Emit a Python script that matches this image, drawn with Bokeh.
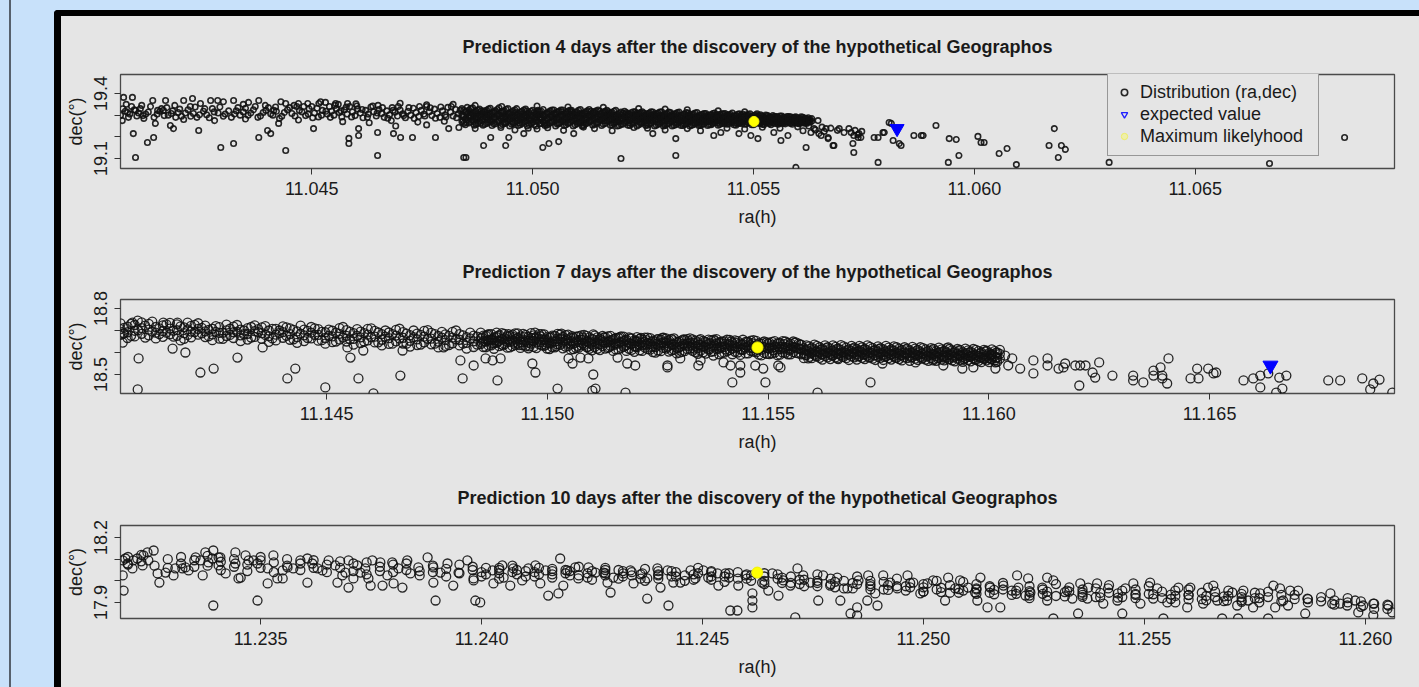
import numpy as np
from bokeh.plotting import figure
from bokeh.layouts import column
from bokeh.models import FixedTicker, PrintfTickFormatter, Legend, LegendItem
from bokeh.embed import file_html
from bokeh.resources import INLINE

# ---------------------------------------------------------------------------
# DATA.  Tokens are "k:m[,m,...]" :
#   ra  = RA0  + k * 1e-5   (hours)
#   dec = DEC0 + m * 1e-3   (degrees)
# ---------------------------------------------------------------------------
TITLES = ["Prediction 4 days after the discovery of the hypothetical Geographos",
          "Prediction 7 days after the discovery of the hypothetical Geographos",
          "Prediction 10 days after the discovery of the hypothetical Geographos"]
LEGEND_LABELS = ["Distribution (ra,dec)", "expected value", "Maximum likelyhood"]

# ----- 4 days (RA0 = 11.04, DEC0 = 19) -----
P4_RA0, P4_DEC0 = 11.04, 19.0
P4_POINTS = """
71:275 74:382 94:382 83:312 101:322 96:215 101:105 128:174 140:368 142:197 146:262 151:322 169:368 164:322
187:238 180:252 210:368 230:377 248:354 244:229 271:368 287:368 294:151 323:169 323:368 357:359 380:368
380:197 400:229 407:215 414:322 425:262 441:354 441:137 470:354 491:354 516:354 504:238 531:359 554:354
581:354 584:193 584:169 606:238 606:206 649:220 649:114 685:215 701:197 728:197 780:197 810:238 844:105 833:243
67:300 78:318 88:305 98:325 108:310 118:298 130:315 150:305 160:330 175:300 185:320 198:312 205:295 220:325
232:308 240:290 255:318 262:302 275:330 288:310 300:295 312:320 325:305 333:335 345:315 356:300 368:325
378:290 390:312 402:335 412:300 420:318 432:295 445:325 455:308 466:340 478:315 486:298 494:330 506:310
515:292 524:322 535:305 540:340 80:350 115:345 190:345 225:340 300:362 345:350 395:345 430:362 460:345
500:340 520:362 120:285 210:280 280:275 350:282 470:278
545:318 550:300 556:330 562:312 568:292 574:325 580:305 586:340 592:315 598:298 604:328 610:310 616:288
622:322 628:305 634:338 640:316 646:296 652:326 658:308 664:290 670:320 676:302 682:335 688:314 694:296
700:324 706:306 712:288 718:318 724:300 730:332 736:312 742:294 748:322 754:305 760:340 766:316 772:298
778:328 784:308 790:290 796:320 802:302 808:336 814:314 820:296 826:326 832:306
560:350 600:352 650:345 700:355 760:348 820:350 570:270 630:265 680:275 740:268 800:272 690:250 760:255
840:330,300,270 848:315,285,256 856:324,294,264 864:308,278,334 872:318,288,258 880:328,300,272
888:312,284,254 896:322,292,262 904:306,276,332 912:316,288,260 920:326,298,268 928:310,282,252
936:320,292,264 944:304,274,330 952:314,286,258 960:324,296,266 968:308,280,252 976:318,290,262
984:302,272,328 992:312,284,256 1000:322,294,266
1008:306,278,250 1016:316,288,260 1024:326,298,270 1032:310,282,254 1040:320,292,264 1048:304,276,324
1056:314,286,258 1064:324,296,268 1072:308,280,252 1080:318,290,262 1088:302,274,322 1096:312,284,256
1104:322,294,266 1112:306,278,250 1120:316,288,260 1128:326,298,270 1136:310,282,254 1144:320,292,264
1152:304,276,318 1160:314,286,258 1168:300,272,322 1176:310,282,254 1184:318,290,262 1192:304,276,250
1200:314,286,258
1208:318,292,266 1216:306,280,254 1224:312,286,260 1232:300,274,316 1240:308,282,256 1248:316,290,264
1256:302,276,252 1264:310,284,258 1272:298,272,314 1280:306,280,254 1288:314,288,262 1296:300,274,250
1304:308,282,258 1312:296,270,312 1320:304,278,254 1328:312,286,262 1336:298,272,252 1344:306,280,258
1352:294,268,310 1360:302,276,254 1368:310,284,262 1376:296,270,252 1384:304,278,258 1392:292,268,308
1400:300,276,256
1408:308,284,262 1416:296,274,302 1424:304,280,258 1432:292,270,306 1440:300,278,258 1448:288,268,304
1456:296,274,256 1464:304,282,262 1472:290,270,300 1480:298,276,258 1488:286,266,302 1496:294,274,256
1504:300,280,262 1512:288,268,298 1520:296,276,258 1528:284,266,300
1536:292,274,260 1544:298,282,266 1552:288,270,294 1560:280,264,296 1568:290,274,262 1576:284,268,294
1584:292,276,262 1592:282,266,290 1600:288,274,262 1608:280,268,292 1616:286,272,264 1624:278,268,288
1632:284,272
849:105 889:160 905:197 939:160 946:197 980:215 1023:151 1037:169 1059:178 928:243 990:240 1034:242
1093:215 1115:245 1229:243 1200:100 1272:215 1324:114 1324:192 1410:206 1426:220 1467:215 1494:206
1510:192 1546:220 1562:183 1578:206 1596:59 870:238 960:232 1010:236 1070:230 1140:238 1180:228 1260:240
1300:232 1350:238 1380:228 1440:240 1480:236 1520:244 1560:240 1600:246 870:345 930:340 1010:342 1080:338
1160:336 1240:330 1300:328 1350:325 1420:320 1480:315
1630:220 1646:275 1637:238 1653:206 1664:238 1669:197 1680:160 1694:238 1705:220 1721:220 1727:206
1725:169 1727:128 1739:215 1743:197 1782:197 1793:220 1807:266 1816:183 1830:169 1834:160 1863:206
1884:206 1913:252 1782:82 1619:151 1648:215 1669:192 1682:160 1737:197 1773:197 1796:220 1880:206
1812:262 1625:250 1640:232 1655:245 1612:228 1660:225 1675:240 1690:230 1716:238 1730:230 1736:210
1745:225 1941:82 1965:114 1943:192 1959:188 2008:202 2015:174 2022:174 2056:123 2074:146 2095:72
2181:238 2169:160 2197:160 2206:142 2190:105 2305:82 2668:77 2838:197
"""
# further passes through the dense 4-day band
P4_BAND_FILL = """
844:322,292,262 852:308,278,336 860:330,300,270 868:314,284,254 876:324,294,264 884:306,276,320
892:316,290,258 900:328,298,268 908:312,282,252 916:320,290,260 924:304,274,334 932:316,286,258
940:326,296,266 948:310,280,250 956:320,292,262 964:302,272,330 972:314,284,256 980:324,296,268
988:308,278,250 996:318,288,260
1004:312,284,256 1012:300,272,322 1020:318,290,262 1028:304,276,252 1036:314,286,258 1044:324,296,268
1052:308,280,250 1060:318,290,262 1068:302,274,324 1076:312,284,256 1084:322,294,266 1092:306,278,250
1100:316,288,260 1108:326,298,270 1116:310,282,254 1124:320,292,264 1132:304,276,318 1140:314,286,258
1148:324,296,268 1156:308,280,252 1164:318,290,262 1172:302,274,316 1180:312,284,256 1188:296,268,322
1196:308,280,252
1204:310,284,258 1212:298,272,312 1220:304,278,252 1228:316,290,264 1236:302,276,250 1244:312,286,260
1252:296,270,310 1260:306,280,254 1268:316,290,264 1276:302,276,250 1284:310,284,258 1292:296,270,316
1300:304,278,252 1308:314,288,262 1316:300,274,250 1324:308,282,256 1332:294,268,314 1340:302,276,252
1348:312,286,260 1356:298,272,250 1364:306,280,256 1372:290,266,312 1380:300,274,252 1388:308,282,260
1396:294,270,252
1404:302,278,256 1412:310,288,266 1420:298,276,254 1428:306,284,262 1436:294,272,308 1444:302,280,260
1452:310,288,266 1460:298,276,254 1468:306,284,262 1476:294,272,304 1484:302,280,260 1492:290,268,306
1500:298,276,256 1508:292,272,306 1516:302,282,262 1524:292,272,256
1532:298,282,266 1540:288,270,256 1548:294,278,262 1556:290,272,258 1564:296,282,268 1572:288,270,260
1580:294,280,266 1588:286,272,258 1596:292,278,266 1604:284,272,260 1612:290,276,264 1620:284,270,262
1628:280,268
842:300,276 850:318,266 858:290,310 866:270,298 874:306,282 882:292,262 890:320,300 898:280,306
906:296,268 914:310,286 922:274,302 930:296,318 938:284,262 946:306,292 954:270,300 962:312,288
970:296,264 978:306,280 986:290,318 994:276,300
1002:298,270 1010:314,290 1018:280,302 1026:296,262 1034:306,284 1042:272,298 1050:310,290 1058:280,262
1066:300,316 1074:290,268 1082:306,280 1090:294,314 1098:272,300 1106:288,308 1114:298,264 1122:280,306
1130:292,270 1138:302,316 1146:282,262 1154:294,306 1162:274,298 1170:290,308 1178:300,266 1186:280,296
1194:292,270
1202:300,276 1210:286,306 1218:294,264 1226:278,300 1234:290,308 1242:270,296 1250:284,302 1258:292,264
1266:278,298 1274:288,304 1282:268,294 1290:282,300 1298:290,262 1306:276,296 1314:286,302 1322:266,292
1330:280,300 1338:288,262 1346:274,294 1354:284,300 1362:266,290 1370:278,296 1378:286,262 1386:272,292
1394:282,298
1402:290,270 1410:278,298 1418:286,264 1426:272,292 1434:282,262 1442:290,270 1450:276,296 1458:284,264
1466:270,292 1474:280,262 1482:288,270 1490:276,294 1498:284,266 1506:272,290 1514:280,262 1522:288,270
1530:276,288 1538:266,282 1546:274,290 1554:280,264 1562:270,286 1570:278,266 1578:272,288 1586:280,266
1594:270,284 1602:276,266 1610:272,282 1618:278,266 1626:274
72:330 85:290 92:340 104:296 112:330 124:305 135:340 143:290 156:318 166:298 172:335 182:308 192:290
201:328 214:310 226:295 236:338 246:302 258:330 268:288 279:315 292:338 304:305 318:290 329:320 338:300
350:332 362:310 372:340 384:296 396:322 407:306 418:338 427:285 438:312 450:335 462:296 472:322 482:340
492:305 502:288 512:332 522:300 532:318 542:290 552:345 566:320 578:338 590:292 602:342 614:326 626:290
638:342 648:310 660:335 672:286 684:322 696:340 708:298 720:335 732:285 744:340 756:296 768:334 780:286
792:338 804:292 816:340 828:288 836:322
"""
P4_ML = (11.05501, 19.271)      # maximum likelihood (ra, dec)
P4_EV = (11.05825, 19.238)      # expected value (ra, dec)
P4_XTICKS = [11.045, 11.050, 11.055, 11.060, 11.065]
P4_YTICKS, P4_YMINOR = [19.1, 19.4], [19.2, 19.3]

# ----- 7 days (RA0 = 11.14, DEC0 = 18) -----
P7_RA0, P7_DEC0 = 11.14, 18.0
P7_POINTS = """
33:732,706,680 49:718,692,666 65:725,699,673 81:711,685,737 97:730,704,678 113:716,690,664 129:723,697,671
145:709,683,735 161:728,702,676 177:714,688,662 193:721,695,669 209:707,681,733 225:722,696,670
241:708,682,656 257:715,689,663 273:701,675,727 289:718,692,666 305:704,678,652 321:711,685,659
337:697,671,723 353:714,688,662 369:700,674,648 385:707,681,655 401:693,667,719 417:710,684,658
433:696,670,644 449:704,678,652 465:690,664,716 481:706,680,654 497:692,666,640 513:699,673,647
529:685,659,711 545:702,676,650 561:688,662,636 577:695,669,643 593:681,655,707 609:698,672,646
625:684,658,632 641:691,665,639 657:677,651,703 673:693,667,641 689:679,653,627 705:686,660,634
721:672,646,698 737:689,663,637 753:675,649,623 769:682,656,630 785:668,642,694 801:684,658,632
817:670,644,618 833:677,651,625
849:690,664,638 861:676,650,624 873:684,658,632 885:670,644,690 897:688,662,636 909:674,648,622
921:681,655,629 933:667,641,687 945:685,659,633 957:671,645,619 969:678,652,626 981:664,638,684
993:682,656,630 1005:668,642,616 1017:675,649,623 1029:661,635,681 1041:679,653,627 1053:665,639,613
1065:672,646,620 1077:658,632,678 1089:676,650,624 1101:662,636,610 1113:669,643,617 1125:655,629,675
1137:673,647,621 1149:659,633,607 1161:666,640,614 1173:652,626,672 1185:669,643,617 1197:655,629,603
1209:662,636,610 1221:648,622,668 1233:665,639,613 1245:651,625,599 1257:658,632,606 1269:644,618,664
1281:662,636,610 1293:648,622,596 1305:655,629,603 1317:641,615,661 1329:660,634,608 1341:646,620,594
1353:653,627,601 1365:639,613,659 1377:658,632,606 1389:644,618,592 1401:651,625,599 1413:637,611,657
1425:655,629,603 1437:641,615,589 1449:648,622,596 1461:634,608,654 1473:653,627,601 1485:639,613,587
1497:646,620,594 1509:648,622,596 1521:640,614,588 1533:652,626,600 1545:644,618,592 1557:650,626,602
1569:640,618,596
1581:620,596,574 1593:628,604,580 1605:614,590,636 1617:624,600,576 1629:632,608,584 1641:618,594,570
1653:626,602,578 1665:612,588,634 1677:622,598,574 1689:630,606,582 1701:616,592,568 1713:624,600,576
1725:610,586,632 1737:620,596,572 1749:628,604,580 1761:614,590,566 1773:622,598,574 1785:608,584,628
1797:618,594,570 1809:624,600,578 1821:610,586,562 1833:618,594,572 1845:604,580,624 1857:614,590,568
1869:620,596,574 1881:606,584,562 1893:614,590,568 1905:600,578,620 1917:610,586,564 1929:616,594,572
1941:602,580,558 1953:610,588,566 1965:596,574,616 1977:606,584,562 1989:612,590,570 2001:598,576,556
2013:606,584,564 2025:594,572,612
72:432 74:573 151:618 180:600 214:509 244:527 298:577 355:623 411:482 429:527 497:441 547:623 554:577
572:482 583:609 606:414 667:495 672:609 765:623 803:564 808:482 833:541 60:736 72:745 130:736 162:736
185:736 38:645 40:686 860:573 876:564 887:473 894:573 966:550 973:509 1023:436 1048:573 1057:550
1075:577 1093:573 1102:427 1109:436 1104:500 1177:418 1181:550 1199:541 1159:577 1272:541 1272:532
1301:573 1342:541 1347:564 1376:586 1399:555 1415:541 1419:464 1437:541 1437:509 1471:541 1494:464
1489:527 1523:541 1528:532 1591:573 1612:418 1657:573 1732:464 1759:550 1834:555 1874:564 1897:577
1908:623 1897:541 1936:586 1940:527 1963:586 1965:532 1992:573 2004:586 2015:527 2015:555 2037:586
2044:541 2053:573 2071:527 2101:564 2101:505 2133:573 2133:541 2158:527 2169:532 2173:550 2196:541
2207:541 2219:541 2205:450 2235:509 2241:486 2250:555 2280:495 2327:495 2327:473 2350:464 2373:518
2373:495 2389:532 2393:495 2407:573 2404:459 2393:482 2457:482 2472:527 2475:482 2497:527 2509:505
2515:509 2577:473 2599:482 2615:495 2633:505 2658:486 2674:495 2615:441 2665:436 2651:418 2769:473
2796:473 2846:482 2871:459 2885:477 2864:432 2914:418
"""
# further passes through the 7-day band
P7_BAND_FILL = """
41:712,688 57:730,676 73:702 89:722,668 105:695,740 121:710,684 137:728,690 153:699,672 169:719,655
185:705,680 201:726,693 217:687,712 233:703,674 249:720,694 265:690,662 281:708,680 297:695,725
313:683,700 329:716,668 345:692,706 361:680,720 377:707,664 393:688,700 409:676,714 425:703,660
441:686,722 457:698,666 473:680,710 489:694,656 505:676,704 521:690,650 537:668,716 553:694,660
569:676,706 585:688,650 601:670,710 617:691,646 633:672,700 649:684,640 665:664,708 681:686,640
697:670,700 713:680,636 729:662,702 745:684,640 761:668,694 777:676,634 793:660,700 809:678,640
825:664,690 841:672,636
855:677,651,625 867:683,657,631 879:669,643,617 891:679,653,629 903:665,639,685 915:675,649,623
927:687,661,635 939:673,647,621 951:680,654,628 963:666,640,688 975:672,646,620 987:684,658,632
999:670,644,618 1011:677,651,625 1023:663,637,685 1035:671,645,619 1047:681,655,629 1059:667,641,615
1071:674,648,622 1083:660,634,680 1095:669,643,617 1107:677,651,625 1119:663,637,611 1131:670,644,618
1143:656,630,676 1155:666,640,614 1167:673,647,621 1179:659,633,607 1191:664,638,612 1203:650,624,670
1215:659,633,607 1227:668,642,616 1239:654,628,602 1251:661,635,609 1263:647,621,667 1275:656,630,604
1287:664,638,612 1299:651,625,599 1311:658,632,606 1323:644,618,664 1335:654,628,602 1347:661,635,609
1359:647,621,595 1371:655,629,603 1383:641,615,661 1395:650,624,598 1407:658,632,606 1419:644,618,592
1431:652,626,600 1443:638,612,658 1455:648,622,596 1467:656,630,604 1479:642,616,590 1491:650,624,598
1503:645,619,593 1515:652,626,600 1527:642,616,590 1539:650,624,598 1551:640,616,592 1563:646,622,598
1575:636,614,592
1587:612,588,632 1599:622,598,574 1611:630,606,582 1623:616,592,568 1635:624,600,578 1647:632,610,586
1659:618,594,570 1671:628,604,580 1683:614,590,566 1695:622,600,578 1707:630,608,584 1719:616,592,570
1731:626,602,578 1743:612,588,566 1755:620,598,576 1767:630,606,582 1779:614,592,568 1791:624,600,576
1803:612,588,564 1815:618,596,574 1827:626,602,580 1839:612,588,566 1851:620,598,576 1863:608,586,562
1875:616,592,570 1887:622,600,578 1899:608,586,564 1911:616,592,570 1923:604,582,560 1935:612,590,568
1947:618,596,574 1959:604,582,560 1971:612,588,566 1983:600,578,556 1995:608,586,564 2007:614,592,570
2019:600,578,558
852:668,645 864:655,680 876:640,662 888:676,650 900:660,632 912:684,656 924:645,670 936:660,634
948:672,648 960:654,628 972:666,690 984:648,674 996:660,636
1008:670,644 1020:652,628 1032:664,686 1044:640,660 1056:674,650 1068:656,630 1080:668,642 1092:650,626
1104:660,682 1116:638,656 1128:668,648 1140:650,624 1152:662,640
1164:646,670 1176:656,630 1188:640,664 1200:652,626 1212:666,644 1224:636,656 1236:648,624 1248:660,640
1260:642,666 1272:652,624 1284:636,656 1296:646,620
1308:660,638 1320:630,652 1332:644,618 1344:656,636 1356:628,648 1368:642,616 1380:652,632 1392:626,646
1404:640,614 1416:650,630 1428:622,644 1440:636,612 1452:648,628 1464:620,642 1476:636,612 1488:646,626
1500:620,640 1512:634,610 1524:644,626 1536:618,638 1548:632,610 1560:644,624 1572:618,636
1584:610,590 1596:618,596 1608:604,584 1620:612,592 1632:620,598 1644:606,586 1656:616,594 1668:600,580
1680:610,590 1692:618,596 1704:604,582 1716:612,590 1728:598,578 1740:608,588 1752:616,594 1764:602,580
1776:610,588 1788:596,576 1800:606,586 1812:614,592 1824:598,578 1836:606,586 1848:594,572 1860:602,582
1872:610,590 1884:596,574 1896:604,582 1908:590,570 1920:598,578 1932:606,586 1944:592,570 1956:600,580
1968:588,568 1980:596,576 1992:604,582 2004:590,570 2016:598,576
"""
P7_ML = (11.15476, 18.623)
P7_EV = (11.16638, 18.541)
P7_XTICKS = [11.145, 11.150, 11.155, 11.160, 11.165]
P7_YTICKS, P7_YMINOR = [18.5, 18.8], [18.6, 18.7]

# ----- 10 days (RA0 = 11.23, DEC0 = 17) -----
P10_RA0, P10_DEC0 = 11.23, 17.0
P10_POINTS = """
188:1094 188:1025 190:955 194:1103 199:1080 210:1057 212:1094 221:1103 233:1071 235:1117 244:1131 258:1140
246:1094 267:1034 271:992 285:1038 303:1025 307:1057 323:1057 330:1062 337:1048 353:1108 364:1094
369:1025 375:1131 382:1085 391:1103 393:1140 405:1108 405:1071 409:1108 421:1034 393:886 443:1131
443:1080 450:1011 455:1015 466:1117 473:1094 484:1094 493:1080 493:909 500:1094 516:1057 516:988
529:1117 538:1011 550:1011 550:1048 561:1062 574:1057 590:1094 606:1103 606:992 617:1080 629:1057
640:1048 654:1094 669:1071 674:992 685:1025 692:1038 699:1094 699:969 710:1011 719:1071 726:1038
737:1057 744:1011 749:978 753:1094 771:1085 776:978 787:1025 798:1085 801:988 812:1057 821:969
832:1094 839:1034 857:1062 878:1108 891:1062 891:992 896:909 907:1038 923:1080 936:978 948:1038
968:1094 982:1011 986:909
982:1002 997:900 1025:1048 1027:988 1047:1071 1050:1015 1065:978 1072:1057 1092:1002 1106:1057
1122:1071 1133:988 1145:1048 1151:932 1178:1103 1174:942 1185:978 1194:1048 1212:1062 1219:1011
1242:1062 1258:1038 1276:1038 1285:992 1292:946 1298:1015 1321:1034 1337:1048 1344:988 1364:1034
1375:918 1375:1011 1398:1057 1405:969 1423:886 1421:1048 1434:992 1450:992 1473:1048 1484:1011
1502:1048 1513:1015 1534:1034 1536:978 1552:1034 1563:863 1579:863 1581:978 1597:1025 1613:942
1613:909 1613:877 1635:992 1649:955 1658:1034 1672:932 1683:1002 1699:978 1715:1057 1710:831
1728:1025 1744:992 1762:909 1773:1025 1789:978 1805:1015 1812:909 1828:965 1835:849 1850:877
1850:840 1853:1002 1875:1025 1873:909 1891:942 1896:886 1909:1025 1925:992 1941:965 1964:1025
1977:992 1993:942 2009:988 2022:1002
2056:1015 2049:909 2072:965 2083:1002 2101:969 2117:946 2122:909 2129:1015 2145:877 2151:969
2174:877 2181:978 2212:1025 2215:969 2231:932 2237:1011 2242:946 2269:969 2280:1015 2280:909
2294:1002 2294:826 2325:955 2337:918 2350:849 2355:988 2371:918 2373:969 2393:988 2407:895 2418:965
2439:909 2450:849 2457:965 2475:988 2491:895 2513:992 2529:965 2543:826 2552:900 2570:900 2577:969
2597:877 2604:969 2633:895 2644:969 2656:978 2665:909 2676:826 2687:909 2699:946 2710:886 2712:826
2724:955 2735:909 2746:877 2762:942 2780:826 2792:978 2796:877 2807:965 2814:909 2825:886 2830:955
2848:955 2864:849 2869:918 2921:942 2925:895 2943:895 2959:886 2977:909 2984:854 2995:886 3018:895
3018:840 3052:886 3061:854
1000:1040,1020 1040:1035,1060 1080:1030,1050 1120:1040,1020 1160:1030,1055 1200:1025,1045
1240:1035,1015 1280:1025,1050 1320:1020,1045 1360:1030,1010 1400:1025,1045 1440:1020,1040
1480:1030,1005 1520:1020,1040 1560:1015,1035 1600:1010,1030 1640:1020,1000 1680:1015,990
1720:1005,985 1760:1000,975 1800:995,970 1840:990,965 1880:985,960 1920:980,958 1960:975,955
2000:970,950 2040:968,948 2080:962,945 2120:960,940 2160:958,938 2200:955,935 2240:952,932
2280:950,930 2320:948,928 2360:946,926 2400:944,924 2440:942,922 2480:940,920 2520:938,918
2560:936,916 2600:934,914 2640:930,910 2680:928,906 2720:925,903 2760:920,900
"""
# second pass through the 10-day band
P10_BAND_FILL = """
200:1110,1075 230:1090,1120 260:1070 290:1100,1060 320:1080,1110 350:1065,1095 380:1115,1070
410:1088,1050 440:1100,1065 470:1075,1045 500:1110,1060 530:1085,1040 560:1070,1100 590:1050,1080
620:1095,1060 650:1075,1040 680:1060,1090 710:1045,1080 740:1085,1030 770:1065,1045 800:1040,1075
830:1080,1050 860:1045,1025 890:1070,1040 920:1055,1020 950:1075,1035 980:1050,1065 1010:1030,1060
1040:1050,1010 1070:1040,1070 1100:1020,1045 1130:1060,1030 1160:1015,1045 1190:1050,1035
1220:1025,1065 1250:1045,1005 1280:1035,1060 1310:1010,1050 1340:1040,1025 1370:1055,1000
1400:1030,1010 1430:1045,1020 1460:1025,1000 1490:1035,1060 1520:1005,1045 1550:1020,995
1580:1040,1010 1610:1000,1025 1640:1035,985 1670:1010,1030 1700:990,1020 1730:1005,975 1760:1030,990
1790:985,1010 1820:1000,965 1850:1020,985 1880:975,1000 1910:995,960 1940:1010,975 1970:970,990
2000:985,950 2030:960,1000 2060:980,945 2090:995,955 2120:965,985 2150:945,975 2180:990,960
2210:955,940 2240:975,920 2270:940,960 2300:985,930 2330:950,970 2360:935,960 2390:965,925
2420:945,980 2450:925,955 2480:960,935 2510:940,975 2540:920,950 2570:955,930 2600:935,960
2630:915,945 2660:950,925 2690:930,955 2720:910,940 2750:945,920 2780:925,950 2810:905,935
2840:935,915 2870:915,900 2900:925,905 2930:910,890 2960:900,920 2990:880,905 3020:895,870 3050:870,890
"""
P10_ML = (11.24624, 18.038)
P10_XTICKS = [11.235, 11.240, 11.245, 11.250, 11.255, 11.260]
P10_YTICKS, P10_YMINOR = [17.9, 18.2], [18.0, 18.1]


def parse(txt, ra0, dec0):
    ra, dec = [], []
    for tok in txt.split():
        k, ms = tok.split(":")
        for m in ms.split(","):
            ra.append(ra0 + int(k) * 1e-5)
            dec.append(dec0 + int(m) * 1e-3)
    return ra, dec


ra4, dec4 = parse(P4_POINTS + P4_BAND_FILL, P4_RA0, P4_DEC0)
ra7, dec7 = parse(P7_POINTS + P7_BAND_FILL, P7_RA0, P7_DEC0)
ra10, dec10 = parse(P10_POINTS + P10_BAND_FILL, P10_RA0, P10_DEC0)

# ---------------------------------------------------------------------------
FONT = "Liberation Sans"
BG = "#e5e5e5"
INK = "#1a1a1a"
W = 1358


def panel(title, ra, dec, ml, ev, xr, yr, xticks, ymaj, ymin, pt_size, pt_lw, height, frame_h,
          ml_size, ev_size, legend=False):
    p = figure(width=W, height=height, x_range=xr, y_range=yr,
               output_backend="svg", toolbar_location=None,
               min_border_left=59, min_border_right=25, min_border_top=58,
               min_border_bottom=height - 58 - frame_h,
               background_fill_color=BG, border_fill_color=BG,
               outline_line_color="#4a4a4a", outline_line_width=1.3)
    p.grid.visible = False
    p.title.text = title
    p.title.align = "center"
    p.title.text_font = FONT
    p.title.text_font_size = "18px"
    p.title.text_font_style = "bold"
    p.title.text_color = INK
    p.title.standoff = 36

    xa = p.xaxis[0]
    xa.ticker = FixedTicker(ticks=xticks)
    xa.formatter = PrintfTickFormatter(format="%.3f")
    xa.axis_label = "ra(h)"
    ya = p.yaxis[0]
    ya.ticker = FixedTicker(ticks=ymaj, minor_ticks=ymin)
    ya.formatter = PrintfTickFormatter(format="%.1f")
    ya.axis_label = "dec(°)"
    ya.major_label_orientation = "vertical"
    for ax in (xa, ya):
        ax.axis_line_color = None
        ax.major_tick_line_color = "#333333"
        ax.major_tick_out = 6
        ax.major_tick_in = 0
        ax.minor_tick_out = 6
        ax.minor_tick_in = 0
        ax.major_label_text_font = FONT
        ax.major_label_text_font_size = "18px"
        ax.major_label_text_color = INK
        ax.axis_label_text_font = FONT
        ax.axis_label_text_font_size = "18px"
        ax.axis_label_text_font_style = "normal"
        ax.axis_label_text_color = INK
    xa.major_label_standoff = 7
    xa.axis_label_standoff = 9
    ya.major_label_standoff = 7
    ya.axis_label_standoff = 6
    xa.minor_tick_line_color = None
    ya.minor_tick_line_color = "#333333"

    r_dist = p.scatter(ra, dec, marker="circle", size=pt_size, fill_color=None,
                       line_color="#111111", line_width=pt_lw, line_alpha=0.9)
    items = [LegendItem(label=LEGEND_LABELS[0], renderers=[r_dist])]
    if ev is not None:
        r_ev_leg = p.scatter([ev[0]], [ev[1]], marker="inverted_triangle", size=8,
                             fill_color=None, line_color="#2020ff", line_width=1.3)
        items.append(LegendItem(label=LEGEND_LABELS[1], renderers=[r_ev_leg]))
    r_ml_leg = p.scatter([ml[0]], [ml[1]], marker="circle", size=7, fill_color="#ffff40",
                         fill_alpha=0.35, line_color="#eeee30", line_alpha=0.6)
    items.append(LegendItem(label=LEGEND_LABELS[2], renderers=[r_ml_leg]))
    if ev is not None:
        p.scatter([ev[0]], [ev[1]], marker="inverted_triangle", size=ev_size,
                  fill_color="#0000ff", line_color="#0000ff")
    p.scatter([ml[0]], [ml[1]], marker="circle", size=ml_size,
              fill_color="#ffff00", line_color="#f2f200")

    if legend:
        leg = Legend(items=items, location=(987, 12),
                     label_text_font=FONT, label_text_font_size="18px", label_text_color=INK,
                     glyph_width=16, glyph_height=22, label_height=22, label_width=170,
                     padding=8, spacing=0, label_standoff=8, margin=0,
                     border_line_color="#4a4a4a", border_line_width=1.3,
                     background_fill_color=BG, background_fill_alpha=1.0)
        p.add_layout(leg)
    return p


p1 = panel(TITLES[0], ra4, dec4, P4_ML, P4_EV, (11.04067, 11.06951), (19.0539, 19.4877),
           P4_XTICKS, P4_YTICKS, P4_YMINOR, 5.5, 1.6, 225, 94, 10, 14, legend=True)
p2 = panel(TITLES[1], ra7, dec7, P7_ML, P7_EV, (11.14033, 11.16919), (18.4136, 18.841),
           P7_XTICKS, P7_YTICKS, P7_YMINOR, 9, 1.3, 226, 94, 11, 15)
p3 = panel(TITLES[2], ra10, dec10, P10_ML, None, (11.23183, 11.26066), (17.826, 18.2554),
           P10_XTICKS, P10_YTICKS, P10_YMINOR, 9, 1.3, 225, 93, 11, 15)

inner = column(p1, p2, p3, spacing=0,
               styles={"border-left": "7px solid #000000", "border-top": "6px solid #000000",
                       "border-top-left-radius": "4px", "background-color": BG})
outer = column(inner, styles={"border-left": "2px solid #56606c", "padding-left": "43px",
                              "padding-top": "10px"})

html = file_html(outer, INLINE, title="Geographos predictions")
html = html.replace(
    "</head>",
    "<style>html,body{background:#c8e1fa !important;overflow:hidden !important;"
    "margin:0 !important;}body{padding:0 0 0 9px !important;}</style></head>", 1)
open("out.html", "w").write(html)
